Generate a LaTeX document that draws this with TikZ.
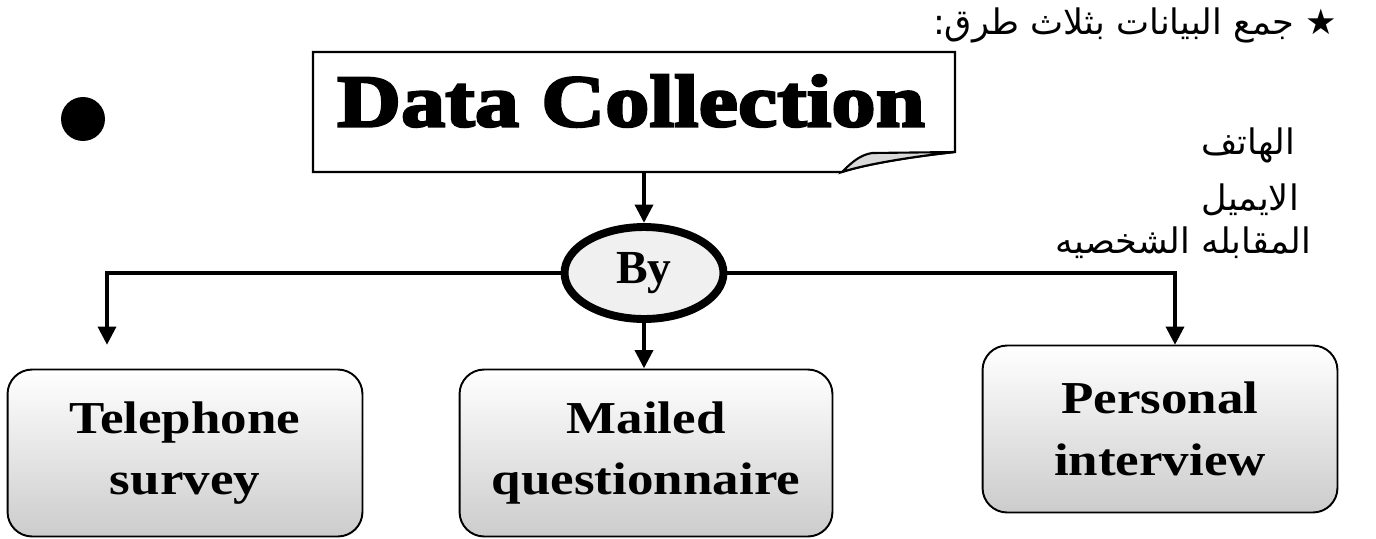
\documentclass[tikz,border=0pt]{standalone}
\usepackage{fontspec}
\setmainfont{Liberation Serif}
\newfontfamily\titlefont[FakeBold=3.5,FakeStretch=1.2]{Liberation Serif}
\newfontfamily\boxfont[FakeStretch=1.16]{Liberation Serif}
\newfontfamily\arabicfont[Script=Arabic]{DejaVu Sans}
\TeXXeTstate=1
\usetikzlibrary{arrows.meta}
\usetikzlibrary{shapes.geometric}

\tikzset{
    paper/.style={draw, line width=1.2pt, fill=white},
    flap/.style={draw, line width=1.2pt, fill=gray!30},
    titletext/.style={font=\titlefont\bfseries\fontsize{42}{46}\selectfont},
    method/.style={draw, line width=1.1pt, rounded corners=14pt,
        top color=white, middle color=white, bottom color=gray!40,
        minimum height=3.34cm, align=center,
        font=\boxfont\bfseries\fontsize{26}{35}\selectfont},
    byoval/.style={ellipse, draw, line width=4.5pt, fill=gray!12,
        minimum width=3.18cm, minimum height=1.84cm, inner sep=0pt,
        font=\bfseries\fontsize{27}{30}\selectfont},
    link/.style={line width=2.8pt, -{Triangle[width=10pt,length=10.5pt]}},
    note/.style={anchor=east, font=\arabicfont\fontsize{20}{24}\selectfont}
}

\begin{document}
\begin{tikzpicture}[x=0.02cm,y=-0.02cm]
    \useasboundingbox (0,0) rectangle (1376,538);
    % title sheet with folded corner
    \draw[paper] (313,52) -- (955,52) -- (955,152)
        .. controls (900,158) and (860,166) .. (842,172) -- (313,172) -- cycle;
    \draw[flap] (842,172) .. controls (852,162) and (860,155) .. (872,153)
        -- (955,152) .. controls (900,158) and (860,166) .. (842,172) -- cycle;
    \node[titletext] (title) at (631,101) {Data Collection};
    \coordinate (titlebot) at (644,173);
    \node[fill, circle, minimum size=0.88cm, inner sep=0pt] (bullet) at (83,119) {};

    % the three methods
    \node[byoval] (by) at (644,273) {By};
    \node[method, minimum width=7.1cm] (tel) at (185,453) {Telephone\\survey};
    \node[method, minimum width=7.46cm] (mail) at (646,453) {Mailed\\questionnaire};
    \node[method, minimum width=7.1cm] (per) at (1160,429) {Personal\\interview};
    \coordinate (telin) at (107,345);
    \coordinate (perin) at (1175,345);

    \draw[link] (titlebot) -- (by.north);
    \draw[link] (by.west) -| (telin);
    \draw[link] (by.east) -| (perin);
    \draw[link] (by.south) -- (by.south |- mail.north);

    % handwritten notes
    \node[note] (n1) at (1343,25) {\beginR ★ جمع البيانات بثلاث طرق:\endR};
    \node[note] (n2) at (1301,145) {\beginR الهاتف\endR};
    \node[note] (n3) at (1305,200) {\beginR الايميل\endR};
    \node[note] (n4) at (1317,243) {\beginR المقابله الشخصيه\endR};
\end{tikzpicture}
\end{document}
